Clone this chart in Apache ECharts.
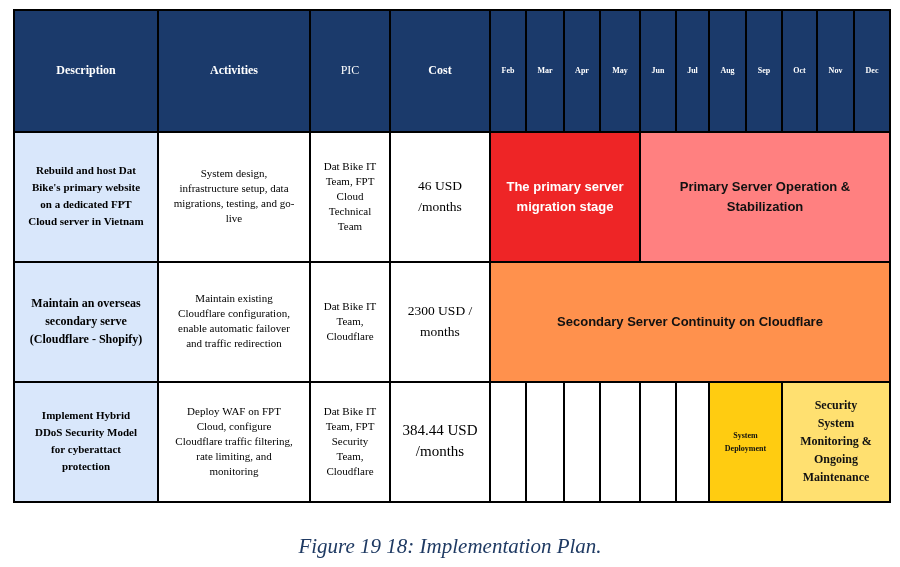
<!DOCTYPE html>
<html><head><meta charset="utf-8">
<script src="https://cdn.jsdelivr.net/npm/echarts@6/dist/echarts.min.js"></script>
<style>html,body{margin:0;background:#fff}#c{width:900px;height:567px}</style>
</head><body><div id="c"></div>
<script>
const headers = ["Description", "Activities", "PIC", "Cost"];
const months = ["Feb","Mar","Apr","May","Jun","Jul","Aug","Sep","Oct","Nov","Dec"];
const descriptions = [
  "Rebuild and host Dat\nBike's primary website\non a dedicated FPT\nCloud server in Vietnam",
  "Maintain an overseas\nsecondary serve\n(Cloudflare - Shopify)",
  "Implement Hybrid\nDDoS Security Model\nfor cyberattact\nprotection"
];
const activities = [
  "System design,\ninfrastructure setup, data\nmigrations, testing, and go-\nlive",
  "Maintain existing\nCloudflare configuration,\nenable automatic failover\nand traffic redirection",
  "Deploy WAF on FPT\nCloud, configure\nCloudflare traffic filtering,\nrate limiting, and\nmonitoring"
];
const pics = [
  "Dat Bike IT\nTeam, FPT\nCloud\nTechnical\nTeam",
  "Dat Bike IT\nTeam,\nCloudflare",
  "Dat Bike IT\nTeam, FPT\nSecurity\nTeam,\nCloudflare"
];
const costs = ["46 USD\n/months", "2300 USD /\nmonths", "384.44 USD\n/months"];
// tasks: row, first month index, last month index, label
const taskRows = [0, 0, 1, 2, 2];
const taskStart = [0, 4, 0, 6, 8];
const taskEnd = [3, 10, 10, 7, 10];
const taskLabels = ["The primary server\nmigration stage", "Primary Server Operation &\nStabilization",
  "Secondary Server Continuity on Cloudflare", "System\nDeployment", "Security\nSystem\nMonitoring &\nOngoing\nMaintenance"];

// layout (structure, not data)
const leftW = [144, 152, 80, 100];
const monthW = [36, 38, 36, 40, 36, 33, 37, 36, 35, 37, 36];
const rowH = [122, 130, 120, 120];
const taskColors = ["#EE2526", "#FF8080", "#FF914D", "#FFCC11", "#FFE070"];
const taskStyle = [
  {f:"bold 13px 'Liberation Sans'", c:"#fff"},
  {f:"bold 13px 'Liberation Sans'", c:"#111"},
  {f:"bold 13px 'Liberation Sans'", c:"#111"},
  {f:"bold 8px 'Liberation Serif'", c:"#111", lh:13},
  {f:"bold 12px 'Liberation Serif'", c:"#111", lh:18}
];

const colEdges = [0];
leftW.concat(monthW).forEach(w => colEdges.push(colEdges[colEdges.length-1] + w));
const rowEdges = [0];
rowH.forEach(h => rowEdges.push(rowEdges[rowEdges.length-1] + h));
const totalW = colEdges[colEdges.length-1], totalH = rowEdges[rowEdges.length-1];

const cells = [], specs = [];
function add(c0, c1, r, fill, text, font, color, lh) {
  cells.push([colEdges[c0], colEdges[c1+1], rowEdges[r], rowEdges[r+1]]);
  specs.push({fill, text, font, color, lh});
}
headers.forEach((h, i) => add(i, i, 0, "#1B3A6B", h, (i===2?"":"bold ") + "12px 'Liberation Serif'", "#fff"));
months.forEach((m, i) => add(4+i, 4+i, 0, "#1B3A6B", m, "bold 8px 'Liberation Serif'", "#fff"));
for (let r = 0; r < 3; r++) {
  add(0, 0, r+1, "#D9E7FB", descriptions[r], (r===1?"bold 12px":"bold 11px") + " 'Liberation Serif'", "#000", r===1?18:17);
  add(1, 1, r+1, "#fff", activities[r], "11px 'Liberation Serif'", "#000", 15);
  add(2, 2, r+1, "#fff", pics[r], "11px 'Liberation Serif'", "#000", 15);
  add(3, 3, r+1, "#fff", costs[r], (r===2?"15px":"13.5px") + " 'Liberation Serif'", "#000", 21);
}
// empty month cells in row 3
for (let m = 0; m < 6; m++) add(4+m, 4+m, 3, "#fff", "", "", "#000");
taskRows.forEach((r, i) => add(4+taskStart[i], 4+taskEnd[i], r+1, taskColors[i], taskLabels[i], taskStyle[i].f, taskStyle[i].c, taskStyle[i].lh || 20));

const chart = echarts.init(document.getElementById('c'));
chart.setOption({
  animation: false,
  grid: {left: 14, right: 10, top: 10, bottom: 65},
  xAxis: {type: 'value', min: 0, max: totalW, show: false},
  yAxis: {type: 'value', min: 0, max: totalH, inverse: true, show: false},
  title: {text: "Figure 19 18: Implementation Plan.", left: 'center', top: 532,
    textStyle: {fontFamily: 'Liberation Serif', fontStyle: 'italic', fontWeight: 'normal', fontSize: 21, color: '#1F3A63'}},
  series: [{
    type: 'custom', data: cells, encode: {x: [0,1], y: [2,3]},
    renderItem: (params, api) => {
      const s = specs[params.dataIndex];
      const p0 = api.coord([api.value(0), api.value(2)]);
      const p1 = api.coord([api.value(1), api.value(3)]);
      const children = [{type: 'rect', shape: {x: p0[0], y: p0[1], width: p1[0]-p0[0], height: p1[1]-p0[1]},
        style: {fill: s.fill, stroke: '#000', lineWidth: 2}}];
      if (s.text) children.push({type: 'text', x: (p0[0]+p1[0])/2, y: (p0[1]+p1[1])/2,
        style: {text: s.text, font: s.font, fill: s.color, align: 'center', verticalAlign: 'middle', lineHeight: s.lh || 16}});
      return {type: 'group', children};
    }
  }]
});
</script></body></html>
